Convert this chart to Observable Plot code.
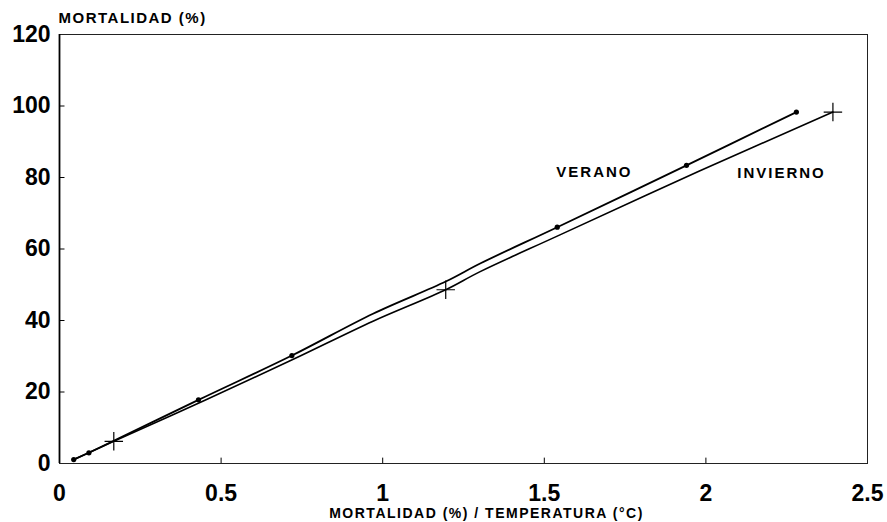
<!DOCTYPE html>
<html>
<head>
<meta charset="utf-8">
<script src="https://cdn.jsdelivr.net/npm/d3@7"></script>
<script src="https://cdn.jsdelivr.net/npm/@observablehq/plot@0.6"></script>
<style>
  html, body { margin: 0; padding: 0; background: #fff; }
  svg { font-family: "Liberation Sans", Arial, Helvetica, sans-serif; }
</style>
</head>
<body>
<div id="chart"></div>
<script>
// Data
// VERANO: points on the drawn curve; dotted markers at the measured points
const veranoX = [0.044, 0.091, 0.43, 0.719, 0.97, 1.195, 1.303, 1.54, 1.94, 2.28];
const veranoY = [1.1, 3.0, 17.8, 30.2, 41.9, 50.9, 56.0, 66.1, 83.4, 98.3];
const veranoMarked = [0, 1, 2, 3, 7, 8, 9];

// INVIERNO: points on the drawn curve; "+" markers at the measured points
const inviernoX = [0.044, 0.168, 0.45, 0.72, 0.97, 1.195, 1.30, 1.54, 1.98, 2.393];
const inviernoY = [1.1, 6.2, 17.7, 29.0, 39.8, 48.6, 53.6, 63.6, 81.8, 98.3];
const inviernoMarked = [1, 5, 9];

const xTicks = [0, 0.5, 1, 1.5, 2, 2.5];
const yTicks = [0, 20, 40, 60, 80, 100, 120];

const seriesLabels = ["VERANO", "INVIERNO"];
const seriesLabelX = [1.655, 2.234];
const seriesLabelY = [81.4, 81.1];

const yTitle = "MORTALIDAD (%)";
const xTitle = "MORTALIDAD (%) / TEMPERATURA (°C)";

const verano = veranoX.map((x, i) => ({x, y: veranoY[i]}));
const veranoMarks = veranoMarked.map(i => verano[i]);
const invierno = inviernoX.map((x, i) => ({x, y: inviernoY[i]}));
const inviernoMarks = inviernoMarked.map(i => invierno[i]);
const labels = seriesLabels.map((t, i) => ({t, x: seriesLabelX[i], y: seriesLabelY[i]}));

const chart = Plot.plot({
  width: 887,
  height: 522,
  marginLeft: 59,
  marginRight: 20,
  marginTop: 34,
  marginBottom: 59,
  style: {fontFamily: "'Liberation Sans', Arial, Helvetica, sans-serif", background: "#fff", color: "#000"},
  x: {domain: [0, 2.5]},
  y: {domain: [0, 120]},
  marks: [
    Plot.frame({stroke: "#222", strokeWidth: 1}),
    Plot.ruleX([0], {stroke: "#000", strokeWidth: 1.8}),
    // inward tick marks
    Plot.ruleX(xTicks.slice(1, -1), {x: d => d, y1: 0, y2: 1.5, stroke: "#000", strokeWidth: 1}),
    Plot.ruleY(yTicks.slice(1, -1), {y: d => d, x1: 0, x2: 0.017, stroke: "#000", strokeWidth: 1}),
    Plot.axisX({ticks: xTicks, tickSize: 0, tickPadding: 21, fontSize: 23, fontWeight: "bold",
      tickFormat: d => String(d), label: null}),
    Plot.axisY({ticks: yTicks, tickSize: 0, tickPadding: 9, fontSize: 23, fontWeight: "bold",
      tickFormat: d => String(d), label: null}),
    Plot.line(verano, {x: "x", y: "y", stroke: "#000", strokeWidth: 1.8, curve: "catmull-rom"}),
    Plot.line(invierno, {x: "x", y: "y", stroke: "#000", strokeWidth: 1.6, curve: "catmull-rom"}),
    Plot.dot(veranoMarks, {x: "x", y: "y", r: 2.6, fill: "#000"}),
    Plot.dot(inviernoMarks, {x: "x", y: "y", symbol: "plus", r: 6, stroke: "#000", strokeWidth: 1.2}),
    Plot.text(labels, {x: "x", y: "y", text: "t", fontSize: 15, fontWeight: "bold", fill: "#000"}),
    Plot.text([yTitle], {frameAnchor: "top-left", dx: -1, dy: -12, lineAnchor: "bottom", textAnchor: "start",
      fontSize: 15, fontWeight: "bold", fill: "#000"}),
    Plot.text([xTitle], {frameAnchor: "bottom", dx: 23, dy: 54, lineAnchor: "bottom",
      fontSize: 14, fontWeight: "bold", fill: "#000"})
  ]
});

d3.select(chart).selectAll("text").filter(function() {
  const t = this.textContent;
  return t === yTitle || t === xTitle;
}).style("letter-spacing", "1.5px");
d3.select(chart).selectAll("text").filter(function() {
  return seriesLabels.includes(this.textContent);
}).style("letter-spacing", "2px");

document.getElementById("chart").appendChild(chart);
</script>
</body>
</html>
